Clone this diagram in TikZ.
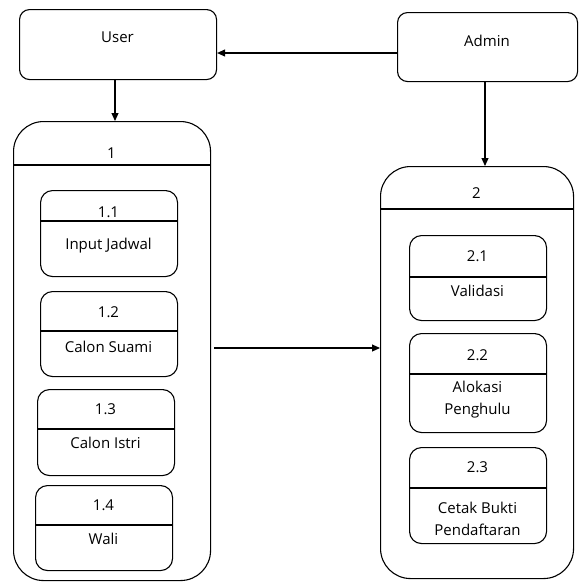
\documentclass[tikz,border=0pt]{standalone}
\usepackage{fontspec}
\setmainfont{Open Sans}
\usetikzlibrary{arrows.meta}
\begin{document}
\begin{tikzpicture}[x=1pt,y=-1pt]
\tikzset{
  ent/.style={draw, line width=1.1pt, rounded corners=10pt, anchor=north west, inner sep=0pt},
  grp/.style={draw, line width=1.1pt, rounded corners=30pt, anchor=north west, inner sep=0pt},
  sub/.style={draw, line width=1.1pt, rounded corners=12pt, anchor=north west, inner sep=0pt, minimum width=137pt},
  lbl/.style={font=\fontsize{15}{22}\selectfont, inner sep=0pt, align=center},
  divider/.style={line width=1.1pt},
  flow/.style={line width=1.1pt, -{Triangle[length=8pt,width=7pt]}}
}
\useasboundingbox (0,0) rectangle (579,582);

% external entities
\node[ent, minimum width=197pt, minimum height=70pt] (user) at (19,9) {};
\node[lbl] (userlbl) at (117.5,37) {User};
\node[ent, minimum width=180pt, minimum height=69pt] (admin) at (397,12) {};
\node[lbl] (adminlbl) at (487,41) {Admin};

% process 1 and its sub-processes
\node[grp, minimum width=197pt, minimum height=459pt] (g1) at (13,121) {};
\draw[divider] (g1.west |- 0,165) -- (g1.east |- 0,165);
\node[lbl] (g1num) at (111.5,153) {1};

\node[sub, minimum height=86pt] (p11) at (40,190) {};
\draw[divider] (p11.west |- 0,221) -- (p11.east |- 0,221);
\node[lbl] (p11num) at (108.5,212) {1.1};
\node[lbl] (p11txt) at (108.5,246) {Input Jadwal};

\node[sub, minimum height=85pt] (p12) at (40,291) {};
\draw[divider] (p12.west |- 0,331) -- (p12.east |- 0,331);
\node[lbl] (p12num) at (108.5,312) {1.2};
\node[lbl] (p12txt) at (108.5,347) {Calon Suami};

\node[sub, minimum height=86pt] (p13) at (37,389) {};
\draw[divider] (p13.west |- 0,429) -- (p13.east |- 0,429);
\node[lbl] (p13num) at (105.5,409) {1.3};
\node[lbl] (p13txt) at (105.5,443) {Calon Istri};

\node[sub, minimum height=85pt] (p14) at (35,485) {};
\draw[divider] (p14.west |- 0,525) -- (p14.east |- 0,525);
\node[lbl] (p14num) at (103.5,505) {1.4};
\node[lbl] (p14txt) at (103.5,539) {Wali};

% process 2 and its sub-processes
\node[grp, minimum width=193pt, minimum height=412pt] (g2) at (380,166) {};
\draw[divider] (g2.west |- 0,209) -- (g2.east |- 0,209);
\node[lbl] (g2num) at (476.5,193) {2};

\node[sub, minimum height=85pt] (p21) at (409,235) {};
\draw[divider] (p21.west |- 0,277) -- (p21.east |- 0,277);
\node[lbl] (p21num) at (477.5,256) {2.1};
\node[lbl] (p21txt) at (477.5,291) {Validasi};

\node[sub, minimum height=99pt] (p22) at (409,333) {};
\draw[divider] (p22.west |- 0,374) -- (p22.east |- 0,374);
\node[lbl] (p22num) at (477.5,355) {2.2};
\node[lbl] (p22txt) at (477.5,400) {Alokasi\\Penghulu};

\node[sub, minimum height=96pt] (p23) at (409,447) {};
\draw[divider] (p23.west |- 0,488) -- (p23.east |- 0,488);
\node[lbl] (p23num) at (477.5,467) {2.3};
\node[lbl] (p23txt) at (477.5,519) {Cetak Bukti\\Pendaftaran};

% data flows
\draw[flow] (admin.west |- 0,53) -- (user.east |- 0,53);
\draw[flow] (user.south -| 115,0) -- (g1.north -| 115,0);
\draw[flow] (admin.south -| 485,0) -- (g2.north -| 485,0);
\draw[flow, shorten <=3pt] (g1.east |- 0,348) -- (g2.west |- 0,348);
\end{tikzpicture}
\end{document}
